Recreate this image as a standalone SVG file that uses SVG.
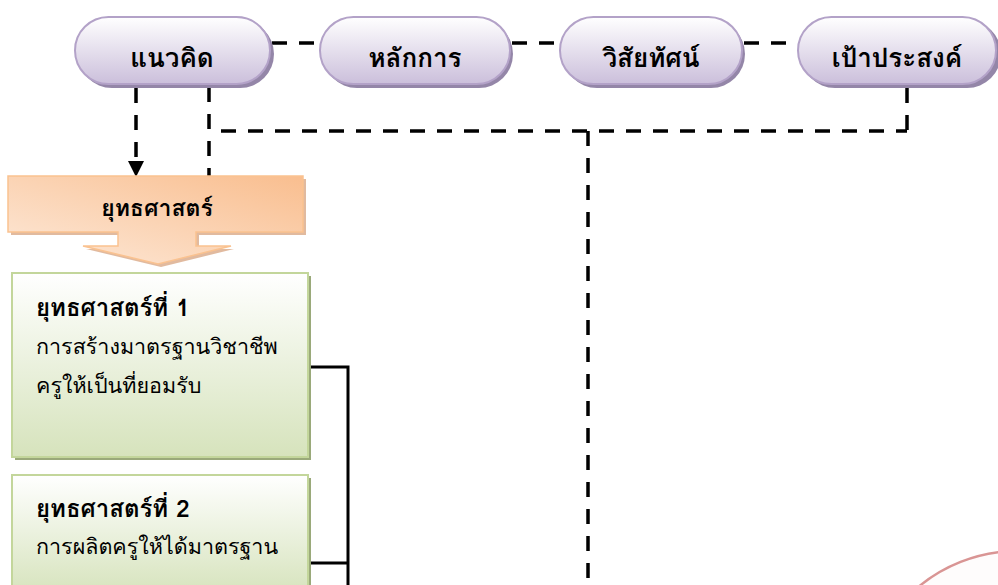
<svg xmlns="http://www.w3.org/2000/svg" width="998" height="585" viewBox="0 0 998 585">
<defs>
<linearGradient id="gPill" x1="0" y1="0" x2="0" y2="1">
<stop offset="0" stop-color="#ffffff"/>
<stop offset="1" stop-color="#cbbfdb"/>
</linearGradient>
<linearGradient id="gOrange" x1="0" y1="1" x2="1" y2="0">
<stop offset="0" stop-color="#fde9d9"/>
<stop offset="1" stop-color="#f9be8f"/>
</linearGradient>
<linearGradient id="gGreen" x1="0" y1="0" x2="0" y2="1">
<stop offset="0" stop-color="#ffffff"/>
<stop offset="1" stop-color="#d6e3bc"/>
</linearGradient>
</defs>
<style>
.pill{fill:url(#gPill);stroke:#b3a2c8;stroke-width:2}
.pillsh{fill:#9486a8}
.ptxt{font-family:"Tahoma","Loma","Garuda","Noto Sans Thai Looped","Noto Sans Thai","Noto Sans",sans-serif;font-weight:bold;font-size:26px;fill:#000;text-anchor:middle}
.dash{fill:none;stroke:#000;stroke-width:3.5;stroke-dasharray:15 12}
.solid{fill:none;stroke:#000;stroke-width:3}
.gbox{fill:url(#gGreen);stroke:#c3d69b;stroke-width:2}
.gsh{fill:#9aa97a}
.btxt{font-family:"Tahoma","Loma","Garuda","Noto Sans Thai Looped","Noto Sans Thai","Noto Sans",sans-serif;font-size:21.5px;fill:#000}
.bhead{font-weight:bold;font-size:24px}
</style>

<g id="connectors">
<line class="dash" x1="272" y1="43" x2="320" y2="43"/>
<line class="dash" x1="512" y1="43" x2="560" y2="43"/>
<line class="dash" x1="744" y1="43" x2="798" y2="43"/>
<line class="dash" x1="136" y1="88" x2="136" y2="164"/>
<path d="M128,161 L144,161 L136,177 Z" fill="#000"/>
<line class="dash" x1="209" y1="87" x2="209" y2="176"/>
<line class="dash" x1="209" y1="131" x2="907" y2="131" style="stroke-dashoffset:-12"/>
<line class="dash" x1="907" y1="88" x2="907" y2="131"/>
<line class="dash" x1="588" y1="131" x2="588" y2="585"/>
<polyline class="solid" points="310,367 348,367 348,585"/>
<line class="solid" x1="310" y1="563" x2="348" y2="563"/>
</g>

<g id="node-concept">
<rect class="pillsh" x="78" y="20" width="196" height="68" rx="34"/>
<rect class="pill" x="75" y="17" width="195" height="67" rx="33.5"/>
<text class="ptxt" x="172" y="67">แนวคิด</text>
</g>
<g id="node-principle">
<rect class="pillsh" x="323" y="20" width="190" height="68" rx="34"/>
<rect class="pill" x="320" y="17" width="190" height="67" rx="33.5"/>
<text class="ptxt" x="415" y="67">หลักการ</text>
</g>
<g id="node-vision">
<rect class="pillsh" x="563" y="20" width="182" height="68" rx="34"/>
<rect class="pill" x="560" y="17" width="182" height="67" rx="33.5"/>
<text class="ptxt" x="651" y="67">วิสัยทัศน์</text>
</g>
<g id="node-goal">
<rect class="pillsh" x="801" y="20" width="200" height="68" rx="34"/>
<rect class="pill" x="798" y="17" width="198" height="67" rx="33.5"/>
<text class="ptxt" x="897" y="67">เป้าประสงค์</text>
</g>

<g id="node-strategy">
<path d="M11,179 H306 V235 H199 V249 H234 L161,267 L86,249 H121 V235 H11 Z" fill="#d9a987" opacity="0.8"/>
<path d="M8,176 H303 V232 H196 V246 H231 L158,264 L83,246 H118 V232 H8 Z" fill="url(#gOrange)" stroke="#fac290" stroke-width="1.5"/>
<text class="ptxt" x="157" y="216" style="font-size:23px">ยุทธศาสตร์</text>
</g>

<g id="node-s1">
<rect class="gsh" x="15" y="276" width="296" height="184"/>
<rect class="gbox" x="12" y="273" width="296" height="184"/>
<text class="btxt bhead" x="36" y="316">ยุทธศาสตร์ที่ 1</text>
<text class="btxt" x="36" y="354">การสร้างมาตรฐานวิชาชีพ</text>
<text class="btxt" x="36" y="393">ครูให้เป็นที่ยอมรับ</text>
</g>

<g id="node-s2">
<rect class="gsh" x="15" y="478" width="296" height="120"/>
<rect class="gbox" x="12" y="475" width="296" height="120"/>
<text class="btxt bhead" x="36" y="517">ยุทธศาสตร์ที่ 2</text>
<text class="btxt" x="36" y="554">การผลิตครูให้ได้มาตรฐาน</text>
</g>

<g id="node-circle">
<circle cx="1018" cy="707" r="156" fill="#fefcfc" stroke="#d99594" stroke-width="2.5"/>
</g>
</svg>
